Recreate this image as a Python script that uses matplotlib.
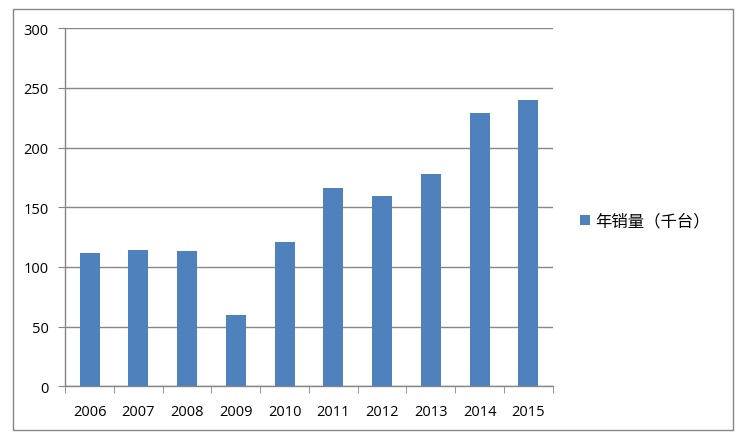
import matplotlib.pyplot as plt
import matplotlib.patches as patches
import numpy as np

# datos
anios = ["2006", "2007", "2008", "2009", "2010", "2011", "2012", "2013", "2014", "2015"]
ventas = [111.7, 114.2, 113.4, 59.7, 120.9, 166.2, 159.3, 177.9, 229.0, 239.9]
etiqueta = "年销量（千台）"

plt.rcParams['font.family'] = ['Noto Sans CJK SC', 'DejaVu Sans']

fig = plt.figure(figsize=(7.4, 4.39), dpi=100)
ax = fig.add_axes([0.0882, 0.1178, 0.6587, 0.8155])

x = np.arange(len(anios))
ax.bar(x, ventas, width=0.41, color='#4F81BD', label=etiqueta, zorder=3)

ax.set_xlim(-0.5, len(anios) - 0.5)
ax.set_ylim(0, 300)
ax.set_yticks(np.arange(0, 301, 50))
ax.grid(axis='y', color='#868686', linewidth=1, zorder=0)

# marcas del eje x entre categorias
ax.set_xticks(x)
ax.set_xticklabels(anios, fontsize=10.5, family=['Open Sans', 'DejaVu Sans'])
ax.set_xticks(np.arange(-0.5, len(anios)), minor=True)
ax.tick_params(axis='x', which='major', length=0, pad=13)
ax.tick_params(axis='x', which='minor', length=5, color='#868686', direction='out')
ax.tick_params(axis='y', length=5, color='#868686', labelsize=10.5, pad=7)
for lbl in ax.get_yticklabels():
    lbl.set_family(['Open Sans', 'DejaVu Sans'])

for s in ['top', 'right']:
    ax.spines[s].set_visible(False)
for s in ['left', 'bottom']:
    ax.spines[s].set_color('#868686')
    ax.spines[s].set_linewidth(1)

ax.legend(loc='center left', bbox_to_anchor=(1.057, 0.462), frameon=False,
          borderaxespad=0, borderpad=0,
          fontsize=11.8, handlelength=0.55, handleheight=0.55, handletextpad=0.35)

# borde exterior del grafico
marco = patches.Rectangle((12.5 / 740, 8 / 439), 720.5 / 740, 421 / 439,
                          transform=fig.transFigure, fill=False,
                          edgecolor='#868686', linewidth=1)
fig.patches.append(marco)

fig.savefig('out.png', dpi=100)
